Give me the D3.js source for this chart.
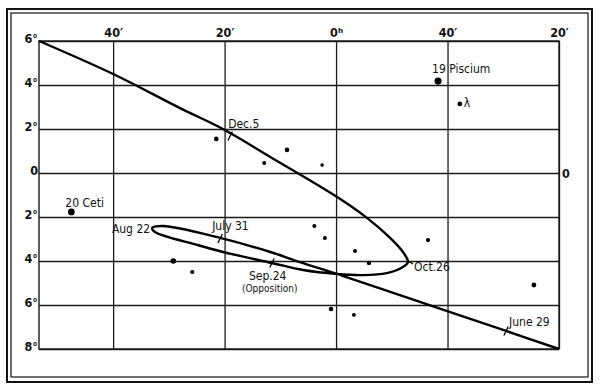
<!DOCTYPE html>
<html>
<head>
<meta charset="utf-8">
<script src="https://cdn.jsdelivr.net/npm/d3@7"></script>
<style>
  body { margin: 0; background: #fff; }
  svg text { font-family: "DejaVu Sans Condensed", "DejaVu Sans", sans-serif; fill: #111; }
</style>
</head>
<body>
<div id="chart"></div>
<script>
// right ascension in minutes of time from 0h (east = positive), declination in degrees
var raTicks = [40, 20, 0, -20, -40];
var raLabels = ["40\u2032", "20\u2032", "0\u02b0", "40\u2032", "20\u2032"];
var decTicks = [6, 4, 2, 0, -2, -4, -6, -8];
var decLabels = ["6\u00b0", "4\u00b0", "2\u00b0", "0", "2\u00b0", "4\u00b0", "6\u00b0", "8\u00b0"];

// track of the planet, in time order
var pathRA  = [-40.0, -30.5, -9.2, -0.2, 6.5, 11.8, 20.8, 31.0, 33.0, 32.5, 24.9, 20.3, 11.5, 5.9, -0.2, -4.8, -9.1, -12.0, -12.9, -12.0, -9.7, -5.6, -0.2, 11.8, 20.3, 28.0, 40.0, 53.3];
var pathDec = [-8.0, -7.18, -5.36, -4.59, -4.05, -3.59, -2.95, -2.41, -2.5, -2.68, -3.27, -3.59, -4.09, -4.41, -4.59, -4.64, -4.55, -4.27, -4.05, -3.59, -2.95, -2.05, -1.09, 0.73, 2.0, 2.95, 4.5, 6.0];

// dated positions
var dateNames = ["June 29", "July 31", "Aug 22", "Sep.24", "Oct.26", "Dec.5"];
var dateRA    = [-30.5, 20.8, 33.0, 11.5, -12.9, 19.0];
var dateDec   = [-7.18, -2.98, -2.5, -4.09, -4.05, 1.68];

// stars
var starNames = ["19 Piscium", "\u03bb", "", "20 Ceti", "", "", "", "", "", "", "", "", "", "", "", "", ""];
var starRA    = [-18.3, -22.2, 2.5, 47.5, 21.5, 12.9, 8.8, 3.9, 2.0, -3.4, -5.9, -16.5, -35.5, 0.9, -3.2, 29.2, 25.8];
var starDec   = [4.18, 3.14, 0.36, -1.77, 1.55, 0.45, 1.05, -2.41, -2.95, -3.55, -4.09, -3.05, -5.09, -6.18, -6.45, -4.0, -4.5];
var starSize  = [3.6, 2.4, 1.8, 3.4, 2.3, 2.0, 2.3, 2.0, 2.0, 2.0, 2.2, 2.1, 2.4, 2.3, 1.9, 2.8, 2.1];

var width = 600, height = 391;
var x0 = 39, x1 = 559, y0 = 41, y1 = 349;

var svg = d3.select('#chart')
    .append('svg')
        .attr('width', width)
        .attr('height', height);

var x = d3.scaleLinear().domain([53.3, -40]).range([x0, x1]);
var y = d3.scaleLinear().domain([6, -8]).range([y0, y1]);

// double frame
svg.append('rect')
    .attr('x', 7).attr('y', 9).attr('width', 585).attr('height', 373)
    .attr('fill', 'none').attr('stroke', '#111').attr('stroke-width', 2);
svg.append('rect')
    .attr('x', 11).attr('y', 13).attr('width', 577).attr('height', 364)
    .attr('fill', 'none').attr('stroke', '#111').attr('stroke-width', 1.2);

// grid via axes
var topAxis = d3.axisTop(x)
    .tickValues(raTicks)
    .tickSize(-(y1 - y0))
    .tickPadding(4)
    .tickFormat((d, i) => raLabels[i]);

var leftAxis = d3.axisLeft(y)
    .tickValues(decTicks)
    .tickSize(-(x1 - x0))
    .tickPadding(1)
    .tickFormat((d, i) => decLabels[i]);

var gx = svg.append('g')
    .attr('transform', 'translate(0,' + y0 + ')')
    .call(topAxis);
var gy = svg.append('g')
    .attr('transform', 'translate(' + x0 + ',0)')
    .call(leftAxis);

[gx, gy].forEach(g => {
    g.select('.domain').remove();
    g.selectAll('.tick line').attr('stroke', '#1a1a1a').attr('stroke-width', 1.3);
    g.selectAll('.tick text')
        .style('font-size', '12.5px')
        .style('font-weight', 'bold')
        .attr('fill', '#111');
});
gy.selectAll('.tick text').attr('dy', '0.1em');

svg.append('rect')
    .attr('x', x0).attr('y', y0).attr('width', x1 - x0).attr('height', y1 - y0)
    .attr('fill', 'none').attr('stroke', '#1a1a1a').attr('stroke-width', 1.4);

// the "0" on the right side
svg.append('text')
    .attr('x', x1 + 3).attr('y', y(0) + 4.5)
    .style('font-size', '12.5px').style('font-weight', 'bold')
    .text('0');

// planet track
var track = pathRA.map((r, i) => [r, pathDec[i]]);
var line = d3.line()
    .x(d => x(d[0]))
    .y(d => y(d[1]))
    .curve(d3.curveCatmullRom.alpha(0.5));

svg.append('path')
    .attr('d', line(track))
    .attr('fill', 'none')
    .attr('stroke', '#000')
    .attr('stroke-width', 2.4)
    .attr('stroke-linejoin', 'round');

// date marks and labels
var dateLayout = [
    { mark: 'slash', dx: 3,   dy: -5,  anchor: 'start' },
    { mark: 'slash', dx: -8,  dy: -9,  anchor: 'start' },
    { mark: 'none',  dx: -2,  dy: 5,   anchor: 'end' },
    { mark: 'slash', dx: -23, dy: 17,  anchor: 'start' },
    { mark: 'dash',  dx: 6,   dy: 9,   anchor: 'start' },
    { mark: 'slash', dx: -2,  dy: -8,  anchor: 'start' }
];

dateNames.forEach((name, i) => {
    var px = x(dateRA[i]), py = y(dateDec[i]);
    var lay = dateLayout[i];
    if (lay.mark === 'slash') {
        svg.append('line')
            .attr('x1', px - 2.2).attr('y1', py + 4.5)
            .attr('x2', px + 2.2).attr('y2', py - 4.5)
            .attr('stroke', '#000').attr('stroke-width', 1.3);
    } else if (lay.mark === 'dash') {
        svg.append('path')
            .attr('d', 'M' + (px - 1) + ',' + py + ' q3,-1 6,2')
            .attr('fill', 'none')
            .attr('stroke', '#000').attr('stroke-width', 1.2);
    }
    svg.append('text')
        .attr('x', px + lay.dx)
        .attr('y', py + lay.dy)
        .attr('text-anchor', lay.anchor)
        .style('font-size', '12px')
        .text(name);
});

svg.append('text')
    .attr('x', x(dateRA[3]) - 30)
    .attr('y', y(dateDec[3]) + 29)
    .style('font-size', '10px')
    .text('(Opposition)');

// stars
var starLayout = [
    { dx: -6, dy: -8 },
    { dx: 4,  dy: 3 },
    null,
    { dx: -6, dy: -5 }
];

starRA.forEach((r, i) => {
    svg.append('circle')
        .attr('cx', x(r))
        .attr('cy', y(starDec[i]))
        .attr('r', starSize[i])
        .attr('fill', '#000');
    if (starNames[i]) {
        svg.append('text')
            .attr('x', x(r) + starLayout[i].dx)
            .attr('y', y(starDec[i]) + starLayout[i].dy)
            .style('font-size', '12px')
            .text(starNames[i]);
    }
});
</script>
</body>
</html>
